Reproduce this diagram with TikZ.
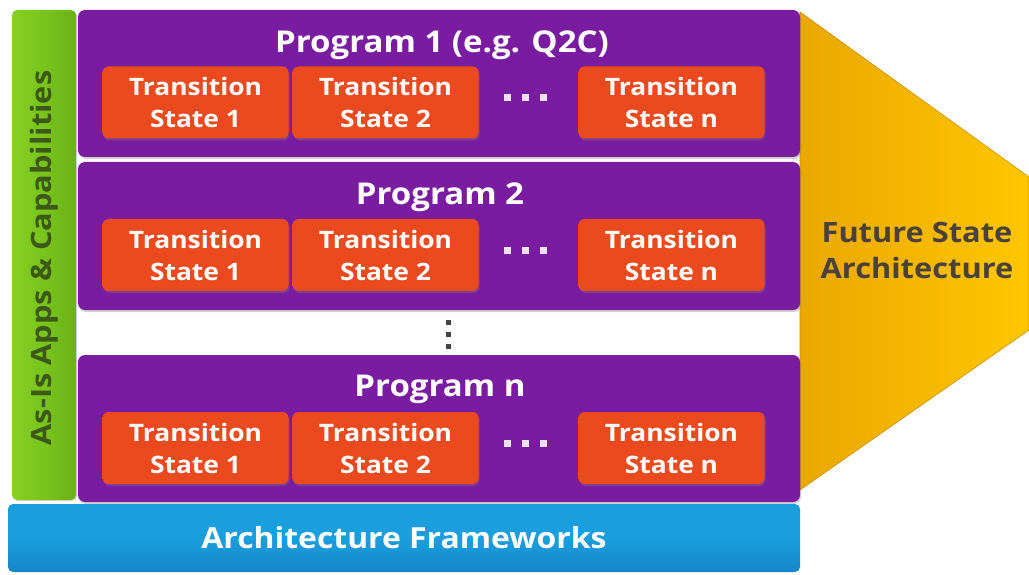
\documentclass[tikz,border=0pt]{standalone}
\usepackage{fontspec}
\setmainfont{Open Sans}[FakeStretch=1.1]
\usetikzlibrary{shadows}
\definecolor{pd}{HTML}{55146E}
\definecolor{pm}{HTML}{7A1CA0}
\definecolor{pl}{HTML}{A452CC}
\definecolor{od}{HTML}{C8380F}
\definecolor{om}{HTML}{EA4A1E}
\definecolor{ol}{HTML}{F8743E}
\definecolor{bd}{HTML}{1270B0}
\definecolor{bm}{HTML}{1A9EDE}
\definecolor{bl}{HTML}{4CCBF5}
\definecolor{gd}{HTML}{5C9E12}
\definecolor{gm}{HTML}{78C41C}
\definecolor{gl}{HTML}{96DC2C}
\definecolor{goldL}{HTML}{EAA800}
\definecolor{goldR}{HTML}{FFC600}
\definecolor{goldE}{HTML}{C89000}
\definecolor{greentext}{HTML}{3C5A16}
\definecolor{graytext}{HTML}{4A423A}
\definecolor{dotgray}{HTML}{444444}
\definecolor{dotlight}{HTML}{F0E0F8}
\pgfdeclareverticalshading{purp}{100bp}{color(0bp)=(pd); color(6bp)=(pm); color(92bp)=(pm); color(97bp)=(pl); color(100bp)=(pl)}
\pgfdeclareverticalshading{oran}{100bp}{color(0bp)=(od); color(12bp)=(om); color(80bp)=(om); color(95bp)=(ol); color(100bp)=(ol)}
\pgfdeclareverticalshading{blu}{100bp}{color(0bp)=(bd); color(50bp)=(bm); color(88bp)=(bm); color(96bp)=(bl); color(100bp)=(bl)}
\pgfdeclarehorizontalshading{grn}{100bp}{color(0bp)=(gl); color(50bp)=(gm); color(100bp)=(gd)}
\tikzset{
  prog/.style={rounded corners=7pt, minimum width=722pt, minimum height=147pt, inner sep=0pt, shading=purp,
    drop shadow={opacity=0.35, shadow xshift=1pt, shadow yshift=-2pt}},
  tstate/.style={rounded corners=6pt, minimum width=186pt, minimum height=72pt, inner sep=0pt, shading=oran,
    align=center, text=white, font=\bfseries\fontsize{24}{32}\selectfont,
    drop shadow={opacity=0.35, shadow xshift=1pt, shadow yshift=-2pt}},
  ttl/.style={text=white, inner sep=0pt, font=\bfseries\fontsize{30}{32}\selectfont},
  bigsq/.style={fill=dotlight, minimum size=7pt, inner sep=0pt},
  smsq/.style={fill=dotgray, minimum size=5pt, inner sep=0pt},
}
\begin{document}
\begin{tikzpicture}[x=1pt, y=-1pt]
\useasboundingbox (0,0) rectangle (1029,575);
\fill[white] (0,0) rectangle (1029,575);
% gold arrow
\shade[left color=goldL, right color=goldR, draw=goldE, line width=0.6pt]
  (800,12) -- (1029,177) -- (1029,330) -- (800,490) -- cycle;
\node[text=graytext, align=center, font=\bfseries\fontsize{28}{36}\selectfont] (fsa) at (917,250) {Future State\\Architecture};
% green bar
\node[rounded corners=5pt, minimum width=64pt, minimum height=490pt, inner sep=0pt, shading=grn,
  drop shadow={opacity=0.3, shadow xshift=1pt, shadow yshift=-1pt}] (asis) at (44,255) {};
\node[rotate=90, text=greentext, font=\bfseries\fontsize{28}{30}\selectfont] (asistxt) at (44,258) {As-Is Apps \& Capabilities};
% programs
\node[prog] (p1) at (439,83.5) {};
\node[prog, minimum height=148pt] (p2) at (439,236) {};
\node[prog] (pn) at (439,428.5) {};
\node[ttl] (t1) at (442,45) {Program 1 (e.g. Q2C)};
\node[ttl] (t2) at (440,197) {Program 2};
\node[ttl] (tn) at (440,389) {Program n};
% transition states
\foreach \r/\yy in {1/102.5, 2/255, n/448}{
  \node[tstate] (s\r a) at (195.5,\yy) {Transition\\State 1};
  \node[tstate] (s\r b) at (385.5,\yy) {Transition\\State 2};
  \node[tstate] (s\r c) at (671.5,\yy) {Transition\\State n};
  \foreach \xx [count=\k] in {507,525,543}{
    \node[bigsq] (d\r\k) at (\xx,\yy-5) {};
  }
}
% vertical dots
\foreach \yy [count=\k] in {322,334,346}{
  \node[smsq] (v\k) at (448,\yy) {};
}
% blue bar
\node[rounded corners=5pt, minimum width=792pt, minimum height=68pt, inner sep=0pt, shading=blu,
  text=white, font=\bfseries\fontsize{29}{30}\selectfont] (af) at (404,538) {Architecture Frameworks};
\end{tikzpicture}
\end{document}
